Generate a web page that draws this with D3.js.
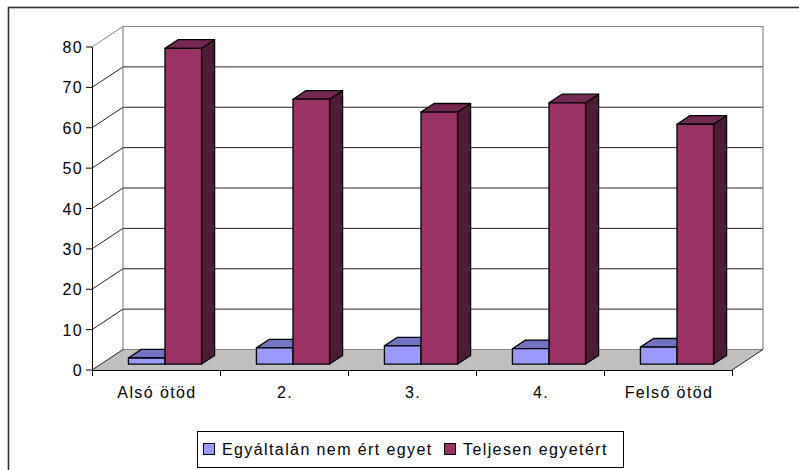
<!DOCTYPE html>
<html>
<head>
<meta charset="utf-8">
<script src="https://cdn.jsdelivr.net/npm/d3@7"></script>
<style>
  body { margin: 0; background: #fff; }
  svg text { font-family: Arial, "Liberation Sans", sans-serif; font-size: 16px; letter-spacing: 1.4px; fill: #000; }
</style>
</head>
<body>
<div id="chart"></div>
<script>
// data
var categories = ["Alsó ötöd", "2.", "3.", "4.", "Felső ötöd"];
var seriesNames = ["Egyáltalán nem ért egyet", "Teljesen egyetért"];
var notAgree = [1.5, 4.0, 4.5, 3.8, 4.2];
var fullyAgree = [78.2, 65.6, 62.4, 64.7, 59.4];
var yTicks = [0, 10, 20, 30, 40, 50, 60, 70, 80];

// face colours (front, top, side) for each series
var faceColors = [
    { front: "#9999FF", top: "#7373C4", side: "#4D4D80" },
    { front: "#993366", top: "#742852", side: "#4F1C35" }
];

var width = 799, height = 470;

var svg = d3.select("#chart").append("svg")
    .attr("width", width)
    .attr("height", height);

// outer chart frame (runs off right and bottom)
svg.append("rect")
    .attr("x", 8.5).attr("y", 7.5)
    .attr("width", 820).attr("height", 500)
    .style("fill", "none")
    .style("stroke", "#333")
    .style("stroke-width", 1.6);

// front plane scales
var x = d3.scaleBand().domain(categories).range([92, 732]).paddingInner(0).paddingOuter(0);
var y = d3.scaleLinear().domain([0, 80]).range([370, 47]);
var xSub = d3.scaleBand().domain([0, 1]).range([0, x.bandwidth()]).paddingInner(0).paddingOuter(0.75);

// depth offset (full depth)
var depthX = 31, depthY = -20.5;
function P(px, v, d) { return [px + depthX * d, y(v) + depthY * d]; }
function poly(pts) { return pts.map(function(p){ return p.join(","); }).join(" "); }

var xL = x.range()[0], xR = x.range()[1];

// back wall gridlines
var g = svg.append("g");
g.selectAll(".grid")
    .data(yTicks.slice(1, -1))
    .enter().append("line")
    .attr("class", "grid")
    .attr("x1", P(xL, 0, 1)[0]).attr("x2", P(xR, 0, 1)[0])
    .attr("y1", function(d){ return P(xL, d, 1)[1]; })
    .attr("y2", function(d){ return P(xL, d, 1)[1]; })
    .style("stroke", "#222").style("stroke-width", 1);

// back wall outline (top + right + left)
g.append("polyline")
    .attr("points", poly([P(xL, 0, 1), P(xL, 80, 1), P(xR, 80, 1), P(xR, 0, 1)]))
    .style("fill", "none").style("stroke", "#888").style("stroke-width", 1.2);

// side wall diagonals
g.selectAll(".diag")
    .data(yTicks.slice(1))
    .enter().append("line")
    .attr("x1", xL).attr("y1", function(d){ return y(d); })
    .attr("x2", P(xL, 0, 1)[0]).attr("y2", function(d){ return P(xL, d, 1)[1]; })
    .style("stroke", function(d){ return d === 80 ? "#888" : "#222"; })
    .style("stroke-width", 1);

// floor
g.append("polygon")
    .attr("points", poly([P(xL, 0, 0), P(xR, 0, 0), P(xR, 0, 1), P(xL, 0, 1)]))
    .style("fill", "#C0C0C0").style("stroke", "none");
g.append("line")
    .attr("x1", P(xL, 0, 1)[0]).attr("y1", P(xL, 0, 1)[1])
    .attr("x2", P(xR, 0, 1)[0]).attr("y2", P(xR, 0, 1)[1])
    .style("stroke", "#808080").style("stroke-width", 1);
g.append("line")
    .attr("x1", xL).attr("y1", P(xL, 0, 0)[1])
    .attr("x2", P(xL, 0, 1)[0]).attr("y2", P(xL, 0, 1)[1])
    .style("stroke", "#222").style("stroke-width", 1);
g.append("line")
    .attr("x1", xR).attr("y1", y(0))
    .attr("x2", P(xR, 0, 1)[0]).attr("y2", P(xR, 0, 1)[1])
    .style("stroke", "#222").style("stroke-width", 1);

// y axis (front left edge)
g.append("line")
    .attr("x1", xL + 0.5).attr("x2", xL + 0.5)
    .attr("y1", y(80)).attr("y2", y(0))
    .style("stroke", "#000");
g.selectAll(".ytick")
    .data(yTicks)
    .enter().append("line")
    .attr("x1", xL - 6).attr("x2", xL)
    .attr("y1", function(d){ return y(d); })
    .attr("y2", function(d){ return y(d); })
    .style("stroke", "#000");
g.selectAll(".ylabel")
    .data(yTicks)
    .enter().append("text")
    .attr("x", xL - 9)
    .attr("y", function(d){ return y(d) + 6; })
    .attr("text-anchor", "end")
    .text(function(d){ return d; });

// x axis line + ticks
g.append("line")
    .attr("x1", xL).attr("x2", xR)
    .attr("y1", y(0) + 0.5).attr("y2", y(0) + 0.5)
    .style("stroke", "#000");
var bounds = categories.map(function(c){ return x(c); }).concat([xR]);
g.selectAll(".xtick")
    .data(bounds)
    .enter().append("line")
    .attr("x1", function(d){ return d + 0.5; }).attr("x2", function(d){ return d + 0.5; })
    .attr("y1", y(0)).attr("y2", y(0) + 6)
    .style("stroke", "#000");
g.selectAll(".xlabel")
    .data(categories)
    .enter().append("text")
    .attr("x", function(d){ return x(d) + x.bandwidth() / 2 + 1; })
    .attr("y", 398)
    .attr("text-anchor", "middle")
    .text(function(d){ return d; });

// bars
var d0 = 0.29, d1 = 0.71;
var bars = g.append("g");
categories.forEach(function(c, i){
    [notAgree[i], fullyAgree[i]].forEach(function(v, s){
        var xa = x(c) + xSub(s), xb = xa + xSub.bandwidth();
        var col = faceColors[s];
        var bg = bars.append("g");
        bg.append("polygon")
            .attr("points", poly([P(xb, 0, d0), P(xb, v, d0), P(xb, v, d1), P(xb, 0, d1)]))
            .style("fill", col.side);
        bg.append("polygon")
            .attr("points", poly([P(xa, v, d0), P(xb, v, d0), P(xb, v, d1), P(xa, v, d1)]))
            .style("fill", col.top);
        bg.append("polygon")
            .attr("points", poly([P(xa, 0, d0), P(xb, 0, d0), P(xb, v, d0), P(xa, v, d0)]))
            .style("fill", col.front);
        bg.selectAll("polygon")
            .style("stroke", "#000").style("stroke-width", 1.3).style("stroke-linejoin", "round");
    });
});

// legend
var legend = svg.append("g");
legend.append("rect")
    .attr("x", 197.5).attr("y", 431.5)
    .attr("width", 426).attr("height", 36)
    .style("fill", "#fff").style("stroke", "#000").style("stroke-width", 1);
var legendX = [203, 444];
seriesNames.forEach(function(name, s){
    legend.append("rect")
        .attr("x", legendX[s] + 0.5).attr("y", 443.5)
        .attr("width", 11).attr("height", 11)
        .style("fill", faceColors[s].front)
        .style("stroke", "#000").style("stroke-width", 1);
    legend.append("text")
        .attr("x", legendX[s] + 19)
        .attr("y", 455)
        .text(name);
});
</script>
</body>
</html>
